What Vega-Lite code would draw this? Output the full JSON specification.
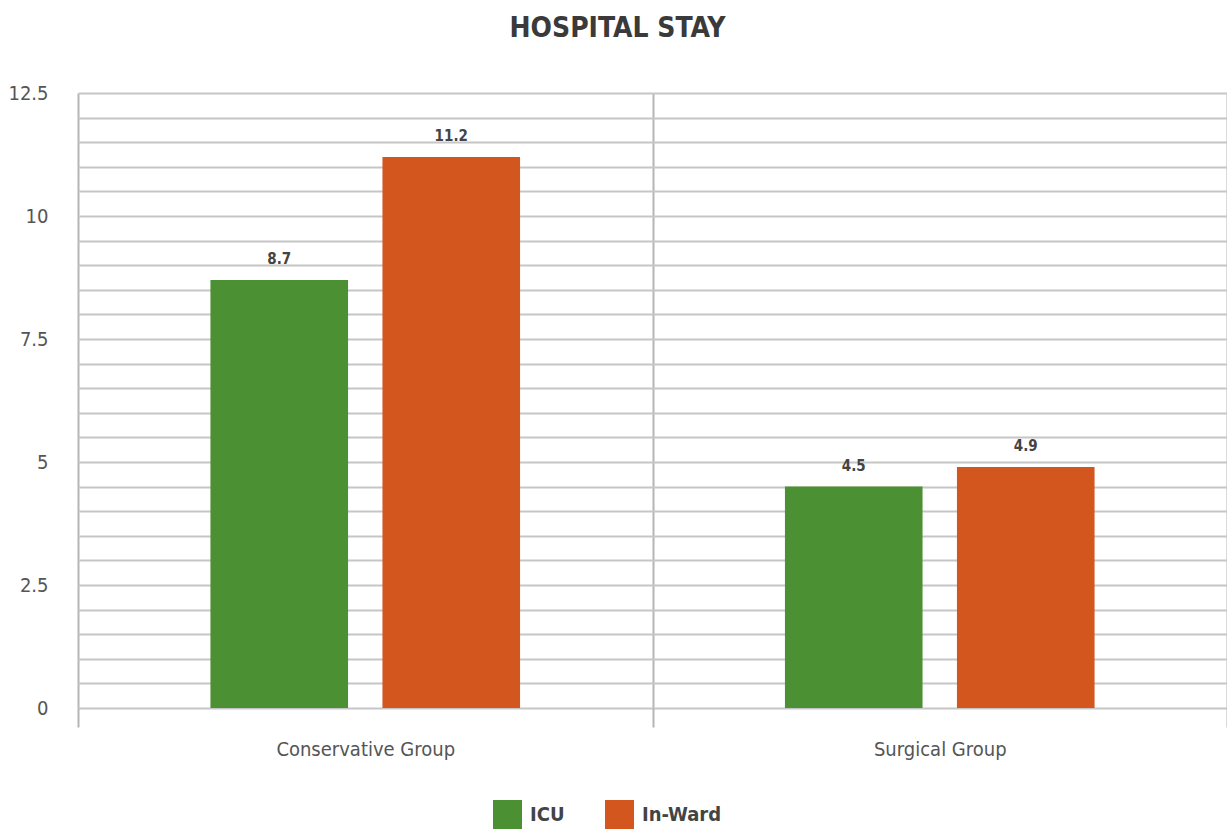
{
  "$schema": "https://vega.github.io/schema/vega-lite/v6.json",
  "autosize": "none",
  "width": 1149,
  "height": 615,
  "padding": {"left": 78, "top": 93, "right": 0, "bottom": 121},
  "background": "white",
  "title": {
    "text": "HOSPITAL STAY",
    "font": "DejaVu Sans Condensed",
    "fontWeight": "bold",
    "fontSize": 28,
    "color": "#3a3a3a",
    "anchor": "middle",
    "offset": 40,
    "dx": -35
  },
  "data": {
    "values": [
      {"group": "Conservative Group", "type": "ICU", "days": 8.7},
      {"group": "Conservative Group", "type": "In-Ward", "days": 11.2},
      {"group": "Surgical Group", "type": "ICU", "days": 4.5},
      {"group": "Surgical Group", "type": "In-Ward", "days": 4.9}
    ]
  },
  "encoding": {
    "x": {
      "field": "group",
      "type": "nominal",
      "title": null,
      "scale": {"paddingInner": 0, "paddingOuter": 0},
      "axis": {
        "labelAngle": 0,
        "labelFont": "DejaVu Sans Condensed",
        "labelFontSize": 20,
        "labelColor": "#555555",
        "labelPadding": 12,
        "tickBand": "extent",
        "ticks": true,
        "tickSize": 19,
        "tickColor": "#b5b5b5",
        "tickWidth": 2,
        "grid": true,
        "gridColor": "#b5b5b5",
        "gridWidth": 2,
        "domain": false
      }
    },
    "xOffset": {
      "field": "type",
      "type": "nominal",
      "scale": {"paddingInner": 0.2, "paddingOuter": 0.77}
    },
    "y": {
      "field": "days",
      "type": "quantitative",
      "title": null,
      "scale": {"domain": [0, 12.5], "nice": false},
      "axis": {
        "values": [0, 0.5, 1, 1.5, 2, 2.5, 3, 3.5, 4, 4.5, 5, 5.5, 6, 6.5, 7, 7.5, 8, 8.5, 9, 9.5, 10, 10.5, 11, 11.5, 12, 12.5],
        "labelExpr": "datum.value % 2.5 == 0 ? format(datum.value, '~g') : ''",
        "labelFont": "DejaVu Sans Condensed",
        "labelFontSize": 20,
        "labelColor": "#555555",
        "labelPadding": 30,
        "ticks": false,
        "domain": false,
        "grid": true,
        "gridColor": "#c6c6c6",
        "gridWidth": 2
      }
    }
  },
  "layer": [
    {
      "mark": {"type": "bar"},
      "encoding": {
        "color": {
          "field": "type",
          "type": "nominal",
          "scale": {"domain": ["ICU", "In-Ward"], "range": ["#4b9133", "#d3561f"]},
          "legend": {
            "title": null,
            "orient": "none",
            "legendX": 415,
            "legendY": 707,
            "direction": "horizontal",
            "symbolType": "square",
            "symbolSize": 840,
            "symbolStrokeWidth": 0,
            "labelFont": "DejaVu Sans Condensed",
            "labelFontSize": 20,
            "labelFontWeight": "bold",
            "labelColor": "#444444",
            "labelOffset": 8,
            "columnPadding": 40,
            "padding": 0
          }
        }
      }
    },
    {
      "mark": {
        "type": "text",
        "dy": -13,
        "font": "DejaVu Sans Condensed",
        "fontWeight": "bold",
        "fontSize": 15,
        "color": "#444444",
        "baseline": "bottom"
      },
      "encoding": {
        "text": {"field": "days", "type": "quantitative", "format": ".1f"}
      }
    }
  ],
  "config": {
    "view": {"stroke": null}
  }
}
